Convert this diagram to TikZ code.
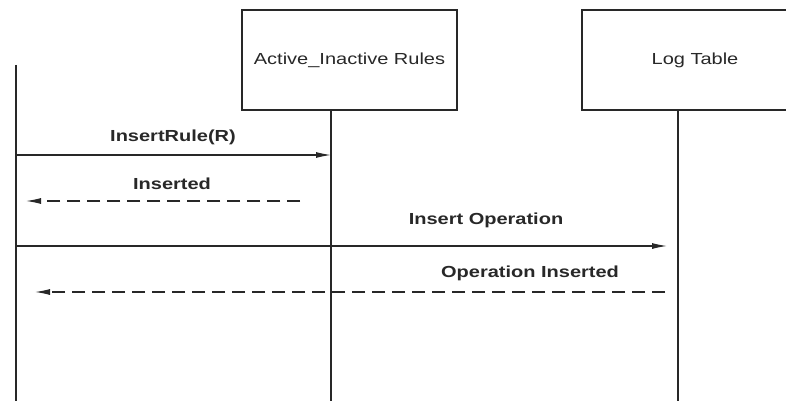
\documentclass[tikz,border=0pt]{standalone}
\usepackage{fontspec}
\setmainfont{Liberation Sans}[FakeStretch=1.25]
\usetikzlibrary{arrows.meta}
\definecolor{ink}{RGB}{40,40,40}
\begin{document}
\begin{tikzpicture}[x=1pt,y=-1pt,
  ln/.style={draw=ink,line width=1.1pt},
  box/.style={draw=ink,line width=1.1pt,rectangle,minimum height=100pt,inner sep=0pt,
    text=ink,font=\fontsize{16}{19}\selectfont},
  lbl/.style={text=ink,inner sep=0pt,font=\fontsize{16}{19}\selectfont\bfseries},
  msg/.style={ln,-{Latex[length=15pt,width=6pt]}},
  ret/.style={ln,-{Latex[length=15pt,width=6pt]},dash pattern=on 13pt off 7pt}]
\clip (0,0) rectangle (786,401);
\fill[white] (0,0) rectangle (786,401);
% lifeline heads
\node[box,minimum width=215pt] (air) at (349.5,60) {Active\_Inactive Rules};
\node[box,minimum width=226pt] (log) at (695,60) {Log Table};
% lifeline ends
\coordinate (c0t) at (16,65);
\coordinate (c0b) at (16,402);
\coordinate (c1t) at (331,110);
\coordinate (c1b) at (331,402);
\coordinate (c2t) at (678,110);
\coordinate (c2b) at (678,402);
\draw[ln] (c0t) -- (c0b);
\draw[ln] (c1t) -- (c1b);
\draw[ln] (c2t) -- (c2b);
% message points
\coordinate (m1s) at (16,155);
\coordinate (m1e) at (331,155);
\coordinate (m2s) at (300,201);
\coordinate (m2e) at (26,201);
\coordinate (m3s) at (16,246);
\coordinate (m3e) at (667,246);
\coordinate (m4s) at (665,292);
\coordinate (m4e) at (35,292);
\draw[msg] (m1s) -- (m1e);
\draw[ret] (m2s) -- (m2e);
\draw[msg] (m3s) -- (m3e);
\draw[ret] (m4s) -- (m4e);
% labels
\node[lbl] (l1) at (173,137) {InsertRule(R)};
\node[lbl] (l2) at (172,184) {Inserted};
\node[lbl] (l3) at (486,220) {Insert Operation};
\node[lbl] (l4) at (530,273) {Operation Inserted};
\end{tikzpicture}
\end{document}
